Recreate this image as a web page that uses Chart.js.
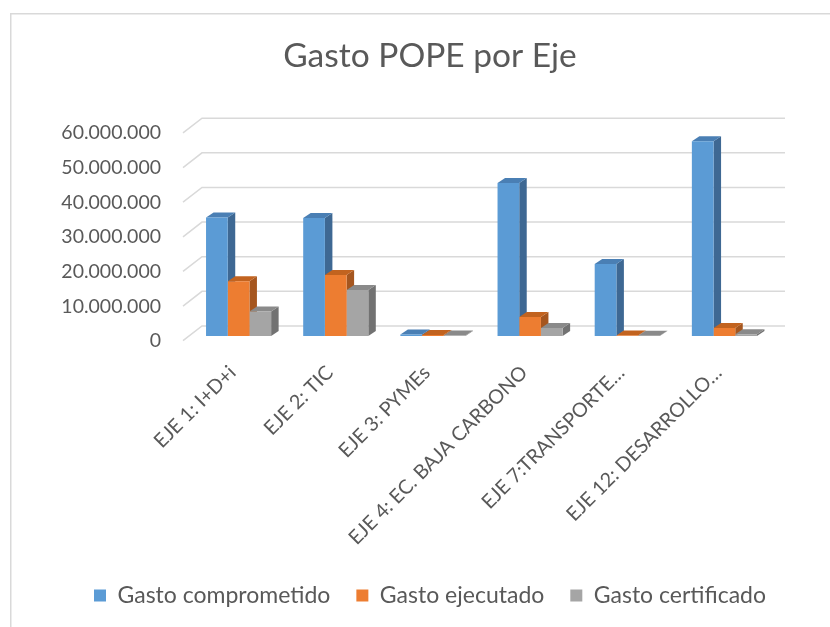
<!DOCTYPE html>
<html>
<head>
<meta charset="utf-8">
<script src="https://cdn.jsdelivr.net/npm/chart.js@4"></script>
<style>
  html, body { margin: 0; padding: 0; background: #fff; overflow: hidden; }
  #wrap { position: absolute; left: 0; top: 0; width: 860px; height: 627px; }
</style>
</head>
<body>
<div id="wrap"><canvas id="chart" width="860" height="627"></canvas></div>
<script>
const categories = ['EJE 1: I+D+i', 'EJE 2: TIC', 'EJE 3: PYMEs', 'EJE 4: EC. BAJA CARBONO', 'EJE 7:TRANSPORTE…', 'EJE 12: DESARROLLO…'];
const seriesNames = ['Gasto comprometido', 'Gasto ejecutado', 'Gasto certificado'];
const comprometido = [34200000, 34100000, 400000, 44200000, 20800000, 56200000];
const ejecutado = [15800000, 17600000, 300000, 5500000, 150000, 2300000];
const certificado = [7100000, 13300000, 150000, 2300000, 100000, 500000];
const yTicks = [0, 10000000, 20000000, 30000000, 40000000, 50000000, 60000000];

const frontColors = ['#5b9bd5', '#ed7d31', '#a5a5a5'];
const topColors = ['#4a7fb4', '#c2631f', '#8a8a8a'];
const sideColors = ['#3e6893', '#a5561f', '#727272'];

const FONT = 'Lato, "Open Sans", sans-serif';
const TEXT = '#595959';
const GRID = '#d9d9d9';

// depth of the bars and of the back wall, in pixels
const DX = 7.5, DY = 5;
const WALL_DX = 12, WALL_DY = -10, FLOOR_DX = -7, FLOOR_DY = 4.7;

function fmt(v) {
  return String(v).replace(/\B(?=(\d{3})+(?!\d))/g, '.');
}

const threeD = {
  id: 'threeD',
  beforeDraw(chart) {
    const ctx = chart.ctx;
    ctx.save();
    ctx.strokeStyle = GRID;
    ctx.lineWidth = 1.5;
    ctx.beginPath();
    ctx.moveTo(10.75, 627);
    ctx.lineTo(10.75, 13.75);
    ctx.lineTo(860, 13.75);
    ctx.stroke();
    ctx.restore();
  },
  beforeDatasetsDraw(chart) {
    const ctx = chart.ctx;
    const area = chart.chartArea;
    const ys = chart.scales.y;
    ctx.save();

    // back wall + side wall gridlines
    ctx.strokeStyle = GRID;
    ctx.lineWidth = 1.5;
    yTicks.forEach(v => {
      const py = ys.getPixelForValue(v);
      ctx.beginPath();
      ctx.moveTo(area.left + FLOOR_DX, py + FLOOR_DY);
      ctx.lineTo(area.left + WALL_DX, py + WALL_DY);
      ctx.lineTo(area.right + WALL_DX, py + WALL_DY);
      ctx.stroke();
    });

    // side and top faces, left to right
    for (let i = 0; i < chart.data.labels.length; i++) {
      chart.data.datasets.forEach((ds, d) => {
        const bar = chart.getDatasetMeta(d).data[i];
        const { x, y, base, width } = bar.getProps(['x', 'y', 'base', 'width'], true);
        const l = x - width / 2, r = x + width / 2;

        ctx.fillStyle = sideColors[d];
        ctx.beginPath();
        ctx.moveTo(r, y);
        ctx.lineTo(r + DX, y - DY);
        ctx.lineTo(r + DX, base - DY);
        ctx.lineTo(r, base);
        ctx.closePath();
        ctx.fill();

        ctx.fillStyle = topColors[d];
        ctx.beginPath();
        ctx.moveTo(l, y);
        ctx.lineTo(l + DX, y - DY);
        ctx.lineTo(r + DX, y - DY);
        ctx.lineTo(r, y);
        ctx.closePath();
        ctx.fill();
      });
    }
    ctx.restore();
  }
};

const seriesData = [comprometido, ejecutado, certificado];

new Chart(document.getElementById('chart'), {
  type: 'bar',
  data: {
    labels: categories,
    datasets: seriesNames.map((name, d) => ({
      label: name,
      data: seriesData[d],
      backgroundColor: frontColors[d],
      borderWidth: 0,
      barPercentage: 1,
      categoryPercentage: 0.67
    }))
  },
  options: {
    responsive: false,
    animation: false,
    devicePixelRatio: 1,
    layout: { padding: { left: 0, right: 0, top: 0, bottom: 10 } },
    plugins: {
      title: {
        display: true,
        text: 'Gasto POPE por Eje',
        color: TEXT,
        font: { family: FONT, size: 33.5, weight: 'normal' },
        padding: { top: 36, bottom: 52 }
      },
      legend: {
        position: 'bottom',
        labels: {
          boxWidth: 12,
          boxHeight: 12,
          padding: 26,
          color: TEXT,
          font: { family: FONT, size: 23 }
        }
      },
      tooltip: { enabled: false }
    },
    scales: {
      x: {
        grid: { display: false, drawTicks: false },
        border: { display: false },
        ticks: {
          minRotation: 45,
          maxRotation: 45,
          autoSkip: false,
          padding: 25,
          labelOffset: -6,
          color: TEXT,
          font: { family: FONT, size: 19.8 }
        },
        afterFit(scale) { scale.height = 222; }
      },
      y: {
        min: 0,
        max: 60000000,
        afterBuildTicks(scale) { scale.ticks = yTicks.map(v => ({ value: v })); },
        grid: { display: false, drawTicks: false },
        border: { display: false },
        ticks: {
          padding: 29,
          labelOffset: 5,
          color: TEXT,
          font: { family: FONT, size: 19.5 },
          callback: v => fmt(v)
        },
        afterFit(scale) { scale.width = 190; }
      },
      // empty right-hand margin so the plot ends where the reference's does
      yRight: {
        position: 'right',
        grid: { display: false, drawTicks: false },
        border: { display: false },
        ticks: { display: false },
        afterFit(scale) { scale.width = 87; }
      }
    }
  },
  plugins: [threeD]
});
</script>
</body>
</html>
